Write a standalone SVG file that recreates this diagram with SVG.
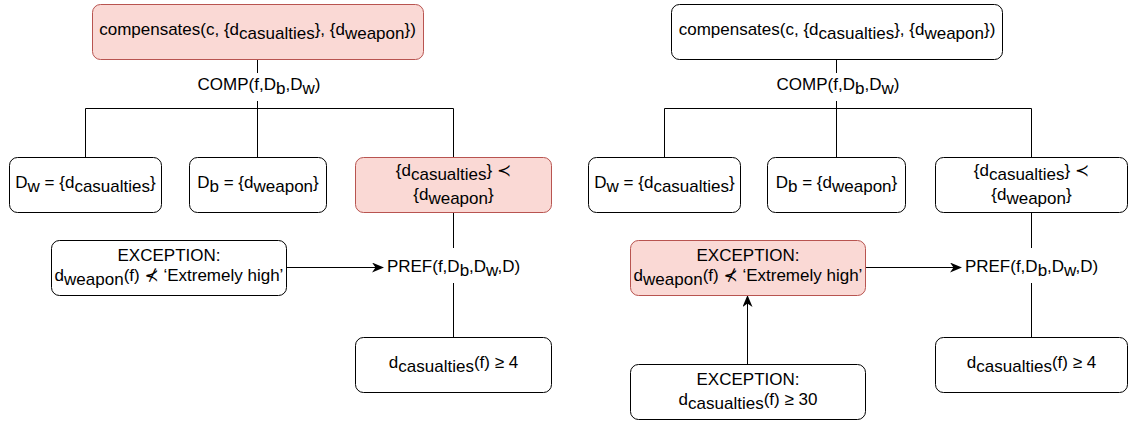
<svg xmlns="http://www.w3.org/2000/svg" width="1129" height="423" viewBox="0 0 1129 423">
<style>
.box{fill:#ffffff;stroke:#000000;stroke-width:1}
.red{fill:#fad9d5;stroke:#b85450;stroke-width:1}
text{font-family:"Liberation Sans",Arial,"DejaVu Sans",sans-serif;font-size:17px;fill:#000000;text-anchor:middle}
.ln{stroke:#000000;stroke-width:1;fill:none}
</style>
<defs>
<marker id="arr" markerUnits="userSpaceOnUse" markerWidth="14" markerHeight="12" refX="11" refY="5" orient="auto">
<path d="M0,0 L12,5 L0,10 L3.5,5 Z" fill="#000000"/>
</marker>
</defs>
<g id="connectors">
<path class="ln" d="M257.5,59.5 V73 M257.5,101 V157.5 M85.5,157.5 V108.5 H453.5 V157.5"/>
<path class="ln" d="M453.5,212.5 V248 M453.5,283 V337.5"/>
<path class="ln" d="M286.5,267.5 H383" marker-end="url(#arr)"/>
<path class="ln" d="M836.5,59.5 V73 M836.5,101 V157.5 M664.5,157.5 V108.5 H1031.5 V157.5"/>
<path class="ln" d="M1031.5,212.5 V248 M1031.5,283 V337.5"/>
<path class="ln" d="M865.5,267.5 H961" marker-end="url(#arr)"/>
<path class="ln" d="M747.5,364.5 V296" marker-end="url(#arr)"/>
<text x="259" y="90">COMP(f,D<tspan dy="4">b</tspan><tspan dy="-4">,D</tspan><tspan dy="4">w</tspan><tspan dy="-4">)</tspan></text>
<text x="453.5" y="272">PREF(f,D<tspan dy="4">b</tspan><tspan dy="-4">,D</tspan><tspan dy="4">w</tspan><tspan dy="-4">,D)</tspan></text>
<text x="838" y="90">COMP(f,D<tspan dy="4">b</tspan><tspan dy="-4">,D</tspan><tspan dy="4">w</tspan><tspan dy="-4">)</tspan></text>
<text x="1031.5" y="272">PREF(f,D<tspan dy="4">b</tspan><tspan dy="-4">,D</tspan><tspan dy="4">w</tspan><tspan dy="-4">,D)</tspan></text>
</g>
<g id="L-top">
<rect class="red" x="92.5" y="4.5" width="331" height="55" rx="8"/>
<text x="257.5" y="35">compensates(c, {d<tspan dy="4">casualties</tspan><tspan dy="-4">}, {d</tspan><tspan dy="4">weapon</tspan><tspan dy="-4">})</tspan></text>
</g>
<g id="L-dw">
<rect class="box" x="9.5" y="157.5" width="152" height="55" rx="8"/>
<text x="85.5" y="188">D<tspan dy="4">w</tspan><tspan dy="-4"> = {d</tspan><tspan dy="4">casualties</tspan><tspan dy="-4">}</tspan></text>
</g>
<g id="L-db">
<rect class="box" x="189.5" y="157.5" width="137" height="55" rx="8"/>
<text x="258" y="188">D<tspan dy="4">b</tspan><tspan dy="-4"> = {d</tspan><tspan dy="4">weapon</tspan><tspan dy="-4">}</tspan></text>
</g>
<g id="L-pref">
<rect class="red" x="355.5" y="157.5" width="196" height="55" rx="8"/>
<text x="453.5" y="176">{d<tspan dy="4">casualties</tspan><tspan dy="-4">} ≺</tspan></text>
<text x="453.5" y="200">{d<tspan dy="4">weapon</tspan><tspan dy="-4">}</tspan></text>
</g>
<g id="L-exc">
<rect class="box" x="51.5" y="240.5" width="235" height="55" rx="8"/>
<text x="169" y="261">EXCEPTION:</text>
<text x="169" y="281">d<tspan dy="4">weapon</tspan><tspan dy="-4">(f) ⊀ ‘Extremely high’</tspan></text>
</g>
<g id="L-bottom">
<rect class="box" x="355.5" y="337.5" width="196" height="55" rx="8"/>
<text x="453.5" y="368">d<tspan dy="4">casualties</tspan><tspan dy="-4">(f) ≥ 4</tspan></text>
</g>
<g id="R-top">
<rect class="box" x="671.5" y="4.5" width="331" height="55" rx="8"/>
<text x="837" y="35">compensates(c, {d<tspan dy="4">casualties</tspan><tspan dy="-4">}, {d</tspan><tspan dy="4">weapon</tspan><tspan dy="-4">})</tspan></text>
</g>
<g id="R-dw">
<rect class="box" x="588.5" y="157.5" width="152" height="55" rx="8"/>
<text x="664.5" y="188">D<tspan dy="4">w</tspan><tspan dy="-4"> = {d</tspan><tspan dy="4">casualties</tspan><tspan dy="-4">}</tspan></text>
</g>
<g id="R-db">
<rect class="box" x="767.5" y="157.5" width="138" height="55" rx="8"/>
<text x="836.5" y="188">D<tspan dy="4">b</tspan><tspan dy="-4"> = {d</tspan><tspan dy="4">weapon</tspan><tspan dy="-4">}</tspan></text>
</g>
<g id="R-pref">
<rect class="box" x="935.5" y="157.5" width="192" height="55" rx="8"/>
<text x="1031.5" y="176">{d<tspan dy="4">casualties</tspan><tspan dy="-4">} ≺</tspan></text>
<text x="1031.5" y="200">{d<tspan dy="4">weapon</tspan><tspan dy="-4">}</tspan></text>
</g>
<g id="R-exc">
<rect class="red" x="630.5" y="240.5" width="235" height="55" rx="8"/>
<text x="748" y="261">EXCEPTION:</text>
<text x="748" y="281">d<tspan dy="4">weapon</tspan><tspan dy="-4">(f) ⊀ ‘Extremely high’</tspan></text>
</g>
<g id="R-exc2">
<rect class="box" x="630.5" y="364.5" width="235" height="55" rx="8"/>
<text x="748" y="385">EXCEPTION:</text>
<text x="748" y="405">d<tspan dy="4">casualties</tspan><tspan dy="-4">(f) ≥ 30</tspan></text>
</g>
<g id="R-bottom">
<rect class="box" x="935.5" y="337.5" width="192" height="55" rx="8"/>
<text x="1031.5" y="368">d<tspan dy="4">casualties</tspan><tspan dy="-4">(f) ≥ 4</tspan></text>
</g>
</svg>
